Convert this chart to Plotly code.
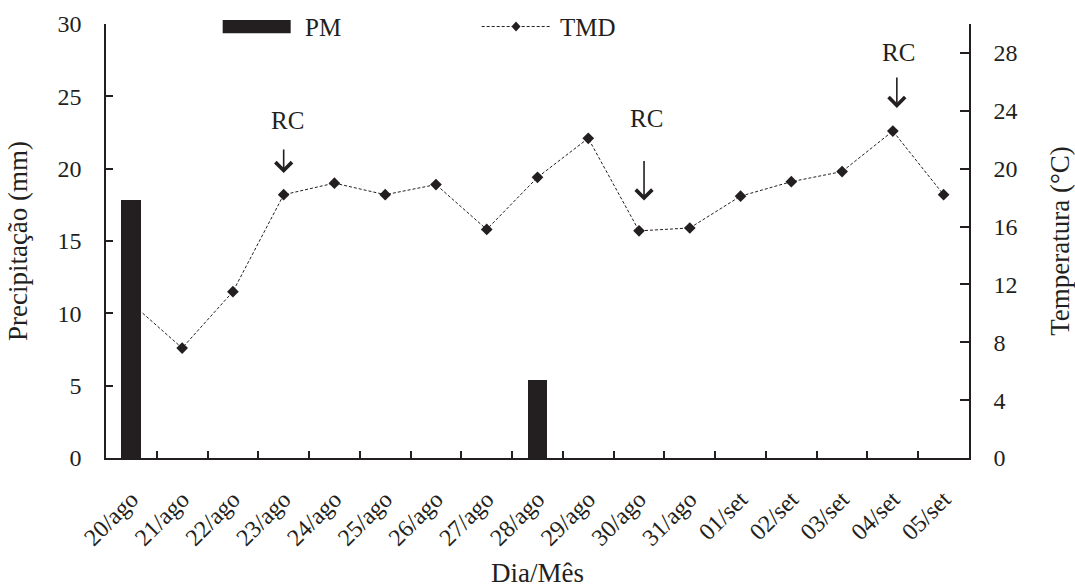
import plotly.graph_objects as go

dias = ["20/ago", "21/ago", "22/ago", "23/ago", "24/ago", "25/ago", "26/ago", "27/ago",
        "28/ago", "29/ago", "30/ago", "31/ago", "01/set", "02/set", "03/set", "04/set", "05/set"]
precipitacao = [17.8, 0, 0, 0, 0, 0, 0, 0, 5.4, 0, 0, 0, 0, 0, 0, 0, 0]
temperatura = [10.7, 7.6, 11.5, 18.2, 19.0, 18.2, 18.9, 15.8, 19.4, 22.1,
               15.7, 15.9, 18.1, 19.1, 19.8, 22.6, 18.2]
rc_dias = ["23/ago", "30/ago", "04/set"]
rc_topo = [19.7, 17.8, 24.2]      # arrow tip (temperature scale)
rc_texto_y = [23.3, 23.5, 28.0]   # label position (temperature scale)

INK = "#231f20"
FONT = "Liberation Serif, Times New Roman, serif"

fig = go.Figure()
fig.add_trace(go.Scatter(
    x=dias, y=temperatura, name="TMD", mode="lines+markers",
    line=dict(color=INK, width=1, dash="3px,2px"),
    marker=dict(symbol="diamond", size=9, color=INK),
    yaxis="y", showlegend=False))
fig.add_trace(go.Bar(
    x=dias, y=precipitacao, name="PM", width=0.39,
    marker=dict(color=INK, line=dict(width=0)),
    yaxis="y2", showlegend=False))

annotations = []
arrow_dx = [0, 5, 4]
arrow_len = [25, 41, 32]
text_dx = [4, 7, 6]
for d, top, ty, adx, alen, tdx in zip(rc_dias, rc_topo, rc_texto_y, arrow_dx, arrow_len, text_dx):
    annotations.append(dict(x=d, y=top, xref="x", yref="y", text="", showarrow=True,
                            ax=0, ay=-alen, arrowhead=4, arrowsize=2.0, arrowwidth=1.6,
                            arrowcolor=INK, xshift=adx))
    annotations.append(dict(x=d, y=ty, xref="x", yref="y", text="RC", showarrow=False,
                            xshift=tdx, font=dict(family=FONT, size=25, color=INK)))

# manual legend
annotations.append(dict(x=0.2283, y=0.993, xref="paper", yref="paper", text="PM",
                        showarrow=False, xanchor="left", yanchor="middle",
                        font=dict(family=FONT, size=25, color=INK)))
annotations.append(dict(x=0.5241, y=0.993, xref="paper", yref="paper", text="TMD",
                        showarrow=False, xanchor="left", yanchor="middle",
                        font=dict(family=FONT, size=25, color=INK)))
shapes = [
    dict(type="rect", xref="paper", yref="paper", x0=0.1352, x1=0.2140, y0=0.9786, y1=1.009,
         fillcolor=INK, line=dict(width=0)),
    dict(type="line", xref="paper", yref="paper", x0=0.4353, x1=0.5145, y0=0.9942, y1=0.9942,
         line=dict(color=INK, width=1, dash="3px,2px")),
    dict(type="path", xref="paper", yref="paper", xsizemode="pixel", ysizemode="pixel",
         xanchor=0.4751, yanchor=0.9942, path="M0,5 L4.5,0 L0,-5 L-4.5,0 Z",
         fillcolor=INK, line=dict(width=0)),
]

fig.update_layout(
    width=1075, height=588,
    margin=dict(l=106, r=106, t=24, b=130),
    paper_bgcolor="white", plot_bgcolor="white",
    font=dict(family=FONT, color=INK, size=24),
    bargap=0,
    xaxis=dict(type="category", range=[-0.5, 16.5], showline=True, linecolor=INK, linewidth=1.6,
               ticks="inside", tickson="boundaries", ticklen=7, tickwidth=1.6, tickcolor=INK,
               tickangle=-45, tickfont=dict(size=24), showgrid=False, zeroline=False,
               automargin=False, ticklabelstandoff=16,
               title=dict(text="Dia/Mês", font=dict(size=27), standoff=17)),
    yaxis=dict(range=[0, 30], tickvals=[0, 4, 8, 12, 16, 20, 24, 28], side="right",
               showline=True, linecolor=INK, linewidth=1.6, ticks="inside", ticklen=9,
               tickwidth=1.6, tickcolor=INK, showgrid=False, zeroline=False, automargin=False,
               ticklabelstandoff=18, tickfont=dict(size=24),
               title=dict(text="Temperatura (°C)", font=dict(size=27), standoff=36)),
    yaxis2=dict(range=[0, 30], dtick=5, side="left", overlaying="y",
                showline=True, linecolor=INK, linewidth=1.6, ticks="inside", ticklen=7,
                tickwidth=1.6, tickcolor=INK, showgrid=False, zeroline=False, automargin=False,
                ticklabelstandoff=18, tickfont=dict(size=24),
                title=dict(text="Precipitação (mm)", font=dict(size=27), standoff=22)),
    annotations=annotations,
    shapes=shapes,
)

fig.write_html("out.html")
